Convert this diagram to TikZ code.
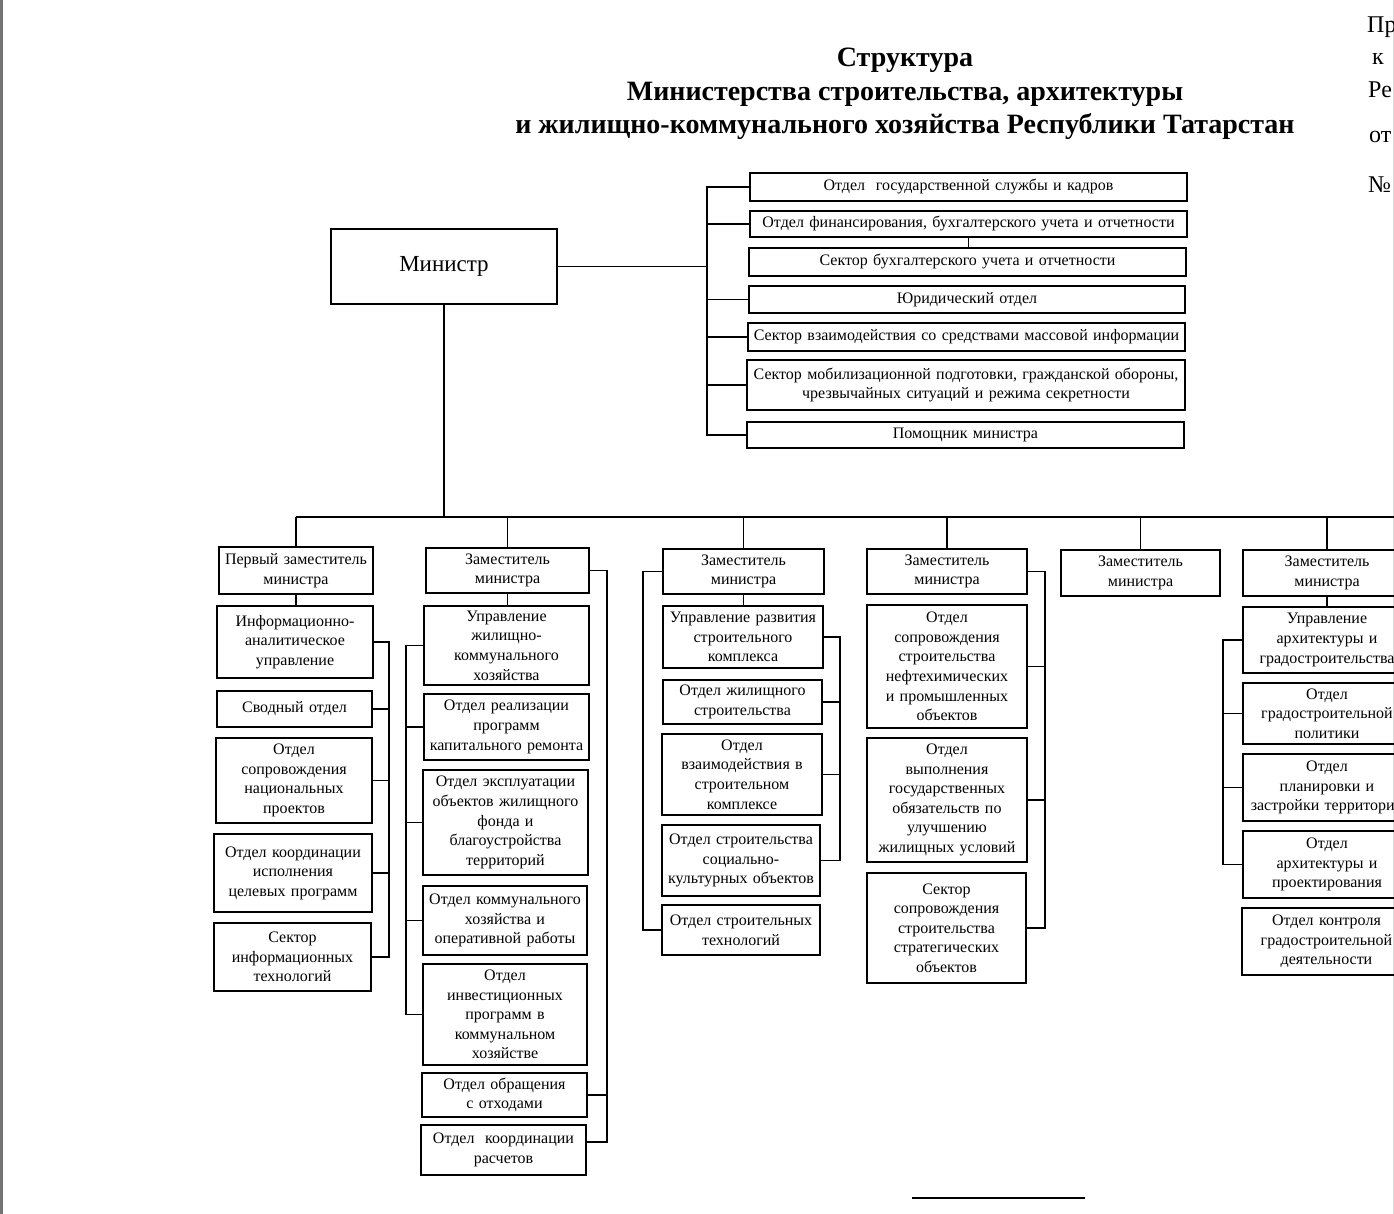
\documentclass[tikz,border=0pt]{standalone}
\usepackage{fontspec}
\setmainfont{Liberation Serif}

\begin{document}
\begin{tikzpicture}[x=1pt, y=-1pt,
  unit/.style={draw, line width=1.7pt, align=center, inner sep=0pt,
    font=\fontsize{16}{19.6}\selectfont},
  sz/.style 2 args={text width=#1, minimum height=#2},
  conn/.style={line width=1.3pt},
  margin/.style={anchor=base west, inner sep=0pt, font=\fontsize{24}{28}\selectfont}]
\useasboundingbox (0,0) rectangle (1394,1214);
\clip (0,0) rectangle (1394,1214);
% page edges
\fill[black!55] (0,0) rectangle (3,1214);
\draw[black!15, line width=1pt] (1393,0) -- (1393,1214);
% heading
\node[align=center, font=\fontsize{28}{33.5}\selectfont\bfseries] (title) at (905,94)
 {Структура\\Министерства строительства, архитектуры\\и жилищно-коммунального хозяйства Республики Татарстан};
% cut-off text at the right margin
\node[margin] (pr) at (1367,33) {Пр};
\node[margin] (pk) at (1372,65) {к};
\node[margin] (pre) at (1368,98) {Ре};
\node[margin] (pot) at (1369,143) {от};
\node[margin] (pno) at (1368,193) {№};
% minister
\node[unit, sz={226pt}{75pt}, font=\fontsize{23}{28}\selectfont] (min) at (444,266.5) {Министр};
% units under the minister
\node[unit, sz={437pt}{28pt}] (r1) at (968.5,187) {Отдел\ \ государственной службы и кадров};
\node[unit, sz={437pt}{26pt}] (r2) at (968.5,224) {Отдел финансирования, бухгалтерского учета и отчетности};
\node[unit, sz={437pt}{28pt}] (r3) at (967.5,262) {Сектор бухгалтерского учета и отчетности};
\node[unit, sz={436pt}{27pt}] (r4) at (967,299.5) {Юридический отдел};
\node[unit, sz={437pt}{28pt}] (r5) at (966.5,337) {Сектор взаимодействия со средствами массовой информации};
\node[unit, sz={438pt}{50pt}] (r6) at (966,385) {Сектор мобилизационной подготовки, гражданской обороны,\\чрезвычайных ситуаций и режима секретности};
\node[unit, sz={437pt}{26pt}] (r7) at (965.5,435) {Помощник министра};
\coordinate (ra) at (707,0);
\draw[conn] (min.east) -- (min.east -| ra);
\draw[conn] (r1.west) -- (r1.west -| ra) -- (r7.west -| ra) -- (r7.west);
\foreach \n in {r2,r4,r5,r6} \draw[conn] (\n.west) -- (\n.west -| ra);
\draw[conn] (r2.south) -- (r2.south |- r3.north);
% deputies
\node[unit, sz={154pt}{47pt}] (z1) at (296,570.5) {Первый заместитель\\министра};
\node[unit, sz={163pt}{45pt}] (z2) at (507.5,570.5) {Заместитель\\министра};
\node[unit, sz={161pt}{45pt}] (z3) at (743.5,571.5) {Заместитель\\министра};
\node[unit, sz={160pt}{45pt}] (z4) at (947,571.5) {Заместитель\\министра};
\node[unit, sz={159pt}{46pt}] (z5) at (1140.5,573) {Заместитель\\министра};
\node[unit, sz={168pt}{46pt}] (z6) at (1327,573) {Заместитель\\министра};
\coordinate (bus) at (0,517);
\coordinate (busend) at (1400,517);
\draw[conn] (min.south) -- (min.south |- bus);
\draw[conn] (z1.north |- bus) -- (busend);
\foreach \z in {z1,z2,z3,z4,z5,z6} \draw[conn] (\z.north) -- (\z.north |- bus);
% first deputy
\node[unit, sz={156pt}{72pt}] (a1) at (295,642) {Информационно-\\аналитическое\\управление};
\node[unit, sz={155pt}{36pt}] (a2) at (294.5,709) {Сводный отдел};
\node[unit, sz={156pt}{85pt}] (a3) at (294,780.5) {Отдел\\сопровождения\\национальных\\проектов};
\node[unit, sz={158pt}{78pt}] (a4) at (293,873) {Отдел координации\\исполнения\\целевых программ};
\node[unit, sz={157pt}{68pt}] (a5) at (292.5,957) {Сектор\\информационных\\технологий};
\draw[conn] (z1.south) -- (z1.south |- a1.north);
\coordinate (ka) at (389,0);
\draw[conn] (a1.east) -- (a1.east -| ka) -- (a5.east -| ka) -- (a5.east);
\foreach \n in {a2,a3,a4} \draw[conn] (\n.east) -- (\n.east -| ka);
% deputy: housing and utilities
\node[unit, sz={165pt}{79pt}] (b1) at (506.5,645.5) {Управление\\жилищно-\\коммунального\\хозяйства};
\node[unit, sz={165pt}{66pt}] (b2) at (506.5,727) {Отдел реализации\\программ\\капитального ремонта};
\node[unit, sz={165pt}{105pt}] (b3) at (505.5,822.5) {Отдел эксплуатации\\объектов жилищного\\фонда и\\благоустройства\\территорий};
\node[unit, sz={164pt}{69pt}] (b4) at (505,920.5) {Отдел коммунального\\хозяйства и\\оперативной работы};
\node[unit, sz={164pt}{101pt}] (b5) at (505,1014.5) {Отдел\\инвестиционных\\программ в\\коммунальном\\хозяйстве};
\node[unit, sz={165pt}{44pt}] (b6) at (504.5,1095) {Отдел обращения\\с отходами};
\node[unit, sz={165pt}{50pt}] (b7) at (503.5,1150) {Отдел\ \ координации\\расчетов};
\draw[conn] (z2.south) -- (z2.south |- b1.north);
\coordinate (kb) at (406,0);
\draw[conn] (b1.west) -- (b1.west -| kb) -- (b5.west -| kb) -- (b5.west);
\foreach \n in {b2,b3,b4} \draw[conn] (\n.west) -- (\n.west -| kb);
\coordinate (kbr) at (607,0);
\draw[conn] (z2.east) -- (z2.east -| kbr) -- ([yshift=8pt]b7.east -| kbr) -- ([yshift=8pt]b7.east);
\draw[conn] (b6.east) -- (b6.east -| kbr);
% deputy: construction complex
\node[unit, sz={160pt}{62pt}] (c1) at (743,637) {Управление развития\\строительного\\комплекса};
\node[unit, sz={159pt}{44pt}] (c2) at (742.5,702) {Отдел жилищного\\строительства};
\node[unit, sz={160pt}{81pt}] (c3) at (742,774.5) {Отдел\\взаимодействия в\\строительном\\комплексе};
\node[unit, sz={158pt}{71pt}] (c4) at (741,860.5) {Отдел строительства\\социально-\\культурных объектов};
\node[unit, sz={158pt}{50pt}] (c5) at (741,930) {Отдел строительных\\технологий};
\draw[conn] (z3.south) -- (z3.south |- c1.north);
\coordinate (kc) at (840,0);
\draw[conn] (c1.east) -- (c1.east -| kc) -- (c4.east -| kc) -- (c4.east);
\foreach \n in {c2,c3} \draw[conn] (\n.east) -- (\n.east -| kc);
\coordinate (kcl) at (643,0);
\draw[conn] (z3.west) -- (z3.west -| kcl) -- (c5.west -| kcl) -- (c5.west);
% deputy: industrial objects
\node[unit, sz={160pt}{123pt}] (d1) at (947,666.5) {Отдел\\сопровождения\\строительства\\нефтехимических\\и промышленных\\объектов};
\node[unit, sz={160pt}{124pt}] (d2) at (947,800) {Отдел\\выполнения\\государственных\\обязательств по\\улучшению\\жилищных условий};
\node[unit, sz={159pt}{110pt}] (d3) at (946.5,928) {Сектор\\сопровождения\\строительства\\стратегических\\объектов};
\coordinate (kd) at (1045,0);
\draw[conn] (z4.east) -- (z4.east -| kd) -- (d3.east -| kd) -- (d3.east);
\foreach \n in {d1,d2} \draw[conn] (\n.east) -- (\n.east -| kd);
% deputy: architecture
\node[unit, sz={168pt}{66pt}] (f1) at (1327,640) {Управление\\архитектуры и\\градостроительства};
\node[unit, sz={168pt}{61pt}] (f2) at (1327,713.5) {Отдел\\градостроительной\\политики};
\node[unit, sz={168pt}{67pt}] (f3) at (1327,787.5) {Отдел\\планировки и\\застройки территорий};
\node[unit, sz={168pt}{67pt}] (f4) at (1327,864.5) {Отдел\\архитектуры и\\проектирования};
\node[unit, sz={169pt}{67pt}] (f5) at (1326.5,941.5) {Отдел контроля\\градостроительной\\деятельности};
\draw[conn] (z6.south) -- (z6.south |- f1.north);
\coordinate (kf) at (1223,0);
\draw[conn] (f1.west) -- (f1.west -| kf) -- (f4.west -| kf) -- (f4.west);
\foreach \n in {f2,f3} \draw[conn] (\n.west) -- (\n.west -| kf);
% closing rule
\coordinate (sl) at (912,1198);
\coordinate (sr) at (1085,1198);
\draw[line width=1.5pt] (sl) -- (sr);
\end{tikzpicture}
\end{document}
